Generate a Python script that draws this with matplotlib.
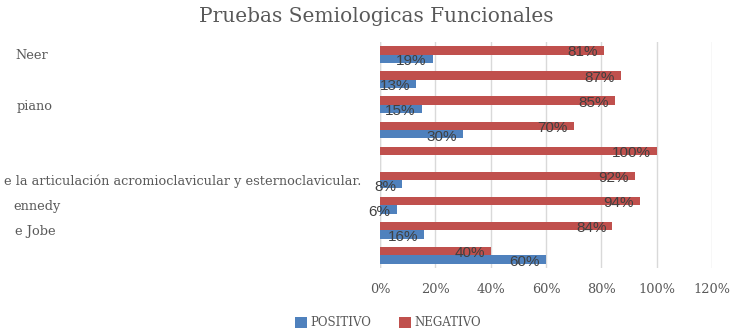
import numpy as np
import matplotlib
matplotlib.use('Agg')
import matplotlib.pyplot as plt
import matplotlib.transforms as mtransforms

BLUE = '#4F81BD'
RED = '#C0504D'
GRID = '#D9D9D9'
TXT = '#595959'
SERIF = 'DejaVu Serif'

# visible (cropped) category labels, top to bottom
categories = ['Neer', '', 'piano', '', '',
              'e la articulación acromioclavicular y esternoclavicular.',
              'ennedy', 'e Jobe', '']
positivo = [19, 13, 15, 30, 0, 8, 6, 16, 60]
negativo = [81, 87, 85, 70, 100, 92, 94, 84, 40]
xticks = [0, 20, 40, 60, 80, 100, 120]

W, H = 736, 333
fig = plt.figure(figsize=(W / 100, H / 100), dpi=100)
ax = fig.add_axes([380 / W, 1 - 268 / H, (712 - 380) / W, (268 - 42) / H])

y = np.arange(len(categories))
h = 0.33
ax.barh(y - h / 2, negativo, h, color=RED, label='NEGATIVO', zorder=3)
ax.barh(y + h / 2, positivo, h, color=BLUE, label='POSITIVO', zorder=3)

# data labels, inside end
for yi, v in zip(y, negativo):
    ax.annotate(f'{v}%', (v, yi - h / 2 + 0.08), xytext=(-6, 0), textcoords='offset pixels',
                ha='right', va='center', fontsize=11, color='#404040',
                family='Liberation Sans', zorder=4)
for yi, v in zip(y, positivo):
    if v == 0:
        continue
    ax.annotate(f'{v}%', (v, yi + h / 2 + 0.1), xytext=(-6, 0), textcoords='offset pixels',
                ha='right', va='center', fontsize=11, color='#404040',
                family='Liberation Sans', zorder=4)

ax.set_xlim(0, 120)
ax.set_ylim(len(categories) - 0.5, -0.5)
ax.set_xticks(xticks)
ax.set_xticklabels([f'{t}%' for t in xticks], family=SERIF,
                   fontsize=9.3, color=TXT)
ax.set_yticks([])
ax.tick_params(axis='x', length=0, pad=11)
ax.grid(axis='x', color=GRID, lw=1, zorder=0)
for s in ax.spines.values():
    s.set_visible(False)
ax.axvline(0, color=GRID, lw=1, zorder=1)

# cropped category labels
trans = mtransforms.blended_transform_factory(fig.transFigure, ax.transData)
label_x = [15, 0, 17, 0, 0, 4, 13, 15, 0]
for yi, lab, lx in zip(y, categories, label_x):
    if lab:
        ax.text(lx / W, yi + 0.05, lab, transform=trans, ha='left', va='center',
                family=SERIF, fontsize=9.3, color=TXT, clip_on=False)

fig.text(0.511, 1 - 16 / H, 'Pruebas Semiologicas Funcionales', ha='center', va='center',
         family=SERIF, fontsize=14.5, color=TXT)

handles, labels = ax.get_legend_handles_labels()
fig.legend(handles[::-1], labels[::-1], loc='center', bbox_to_anchor=(388 / W, 1 - 323 / H),
           ncol=2, frameon=False, prop={'family': SERIF, 'size': 8.5},
           handlelength=1.0, handleheight=1.0, handletextpad=0.3, columnspacing=2.4,
           labelcolor=TXT)

plt.savefig('out.png', dpi=100)
